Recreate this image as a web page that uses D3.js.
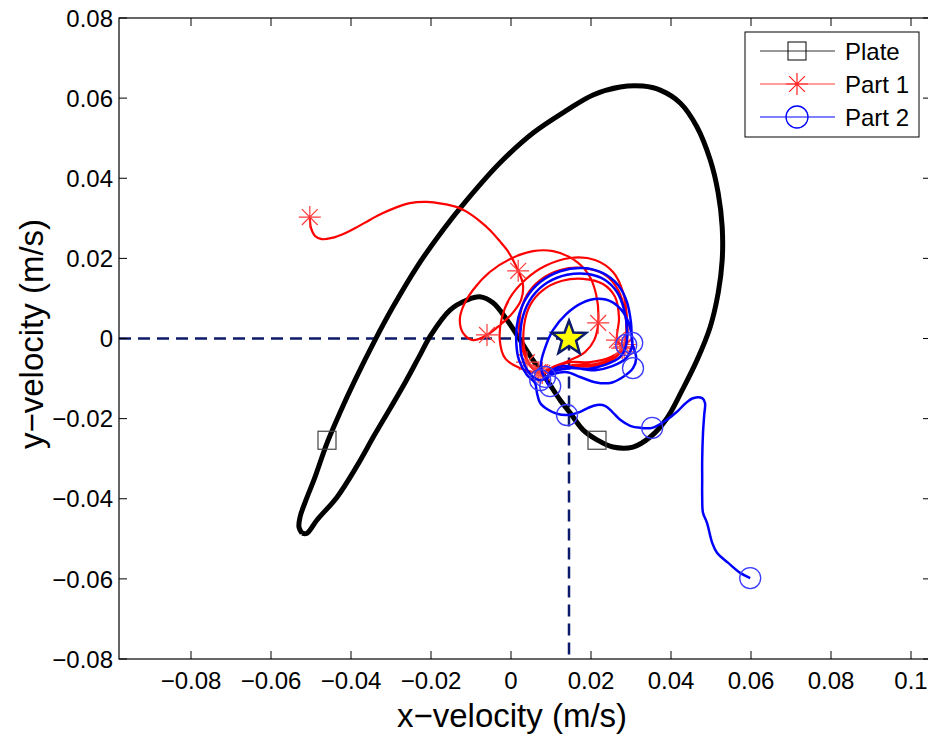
<!DOCTYPE html>
<html><head><meta charset="utf-8">
<script src="https://cdn.jsdelivr.net/npm/d3@7"></script>
<style>
html,body{margin:0;padding:0;background:#fff;}
svg{display:block;font-family:"Liberation Sans",Arial,Helvetica,sans-serif;}
</style></head>
<body>
<svg id="chart" width="928" height="734"></svg>
<script>
// ---- data (velocities in m/s) ----
const plateX = [-0.05225,-0.0530,-0.05275,-0.05125,-0.0490,-0.0460,-0.0428,-0.0390,-0.0340,-0.0295,-0.0235,-0.0170,-0.0110,-0.0028,0.0055,0.0140,0.0205,0.0273,0.0330,0.0373,0.0423,0.0465,0.0498,0.0518,0.0528,0.0528,0.0518,0.0498,0.0465,0.0428,0.0390,0.0348,0.0305,0.0255,0.0215,0.0180,0.0148,0.0123,0.0090,0.0055,0.0023,-0.0010,-0.0045,-0.0078,-0.0110,-0.01525,-0.0200,-0.0230,-0.02625,-0.0300,-0.03425,-0.0385,-0.0435,-0.0485,-0.0510,-0.05225];
const plateY = [-0.0486,-0.0471,-0.0446,-0.0403,-0.0346,-0.0261,-0.0186,-0.0104,-0.0004,0.0079,0.0179,0.0271,0.0346,0.0438,0.0513,0.0570,0.0608,0.0628,0.0630,0.0620,0.0588,0.0528,0.0446,0.0363,0.0278,0.0196,0.0114,0.0029,-0.0054,-0.0129,-0.0199,-0.0246,-0.0271,-0.0271,-0.0253,-0.0228,-0.0186,-0.0154,-0.0104,-0.0054,-0.0004,0.0046,0.0089,0.0104,0.0096,0.0071,0.0009,-0.0046,-0.0106,-0.0171,-0.0243,-0.0318,-0.0396,-0.0453,-0.0486,-0.0486];
const plateMarkX = [-0.0460, 0.0215];
const plateMarkY = [-0.0254, -0.0254];

const part1X = [-0.0503,-0.0500,-0.0490,-0.0473,-0.0448,-0.0415,-0.0385,-0.0353,-0.0320,-0.0285,-0.0253,-0.0210,-0.0170,-0.0135,-0.0110,-0.0078,-0.0053,-0.0028,-0.0010,0.0005,0.0018,0.0030,0.0025,0.0000,-0.0033,-0.0060,-0.0095,-0.0120,-0.0128,-0.0120,-0.0095,-0.0053,-0.0003,0.0055,0.0105,0.0155,0.0193,0.0213,0.0218,0.0208,0.0185,0.0148,0.0110,0.0073,
  0.0023,-0.0015,-0.0028,-0.0023,-0.0003,0.0035,0.0085,0.0148,0.0210,0.0255,0.0280,0.0290,0.0290,0.0283,0.0253,0.0210,0.0160,0.0115,0.0073,
  0.0043,0.0023,0.0023,0.0040,0.0073,0.0123,0.0180,0.0235,0.0268,0.0285,0.0288,0.0283,0.0253,0.0210,0.0160,0.0115,0.0078,
  0.0048,0.0033,0.0033,0.0048,0.0080,0.0128,0.0180,0.0230,0.0260,0.0270,0.0265,0.0278,0.0248,0.0198,0.0148,0.0103,0.0068,0.0040];
const part1Y = [0.0303,0.0276,0.0256,0.0248,0.0251,0.0263,0.0278,0.0296,0.0313,0.0328,0.0338,0.0341,0.0336,0.0328,0.0316,0.0293,0.0271,0.0243,0.0221,0.0196,0.0169,0.0134,0.0096,0.0059,0.0029,0.0009,-0.0004,0.0014,0.0046,0.0079,0.0121,0.0166,0.0198,0.0218,0.0218,0.0198,0.0161,0.0109,0.0039,-0.0004,-0.0034,-0.0054,-0.0069,-0.0084,
  -0.0074,-0.0049,-0.0004,0.0051,0.0101,0.0146,0.0181,0.0201,0.0196,0.0166,0.0116,0.0051,-0.0004,-0.0021,-0.0054,-0.0069,-0.0071,-0.0079,-0.0086,
  -0.0059,-0.0004,0.0059,0.0109,0.0146,0.0171,0.0176,0.0159,0.0121,0.0066,0.0009,-0.0021,-0.0049,-0.0064,-0.0066,-0.0076,-0.0084,
  -0.0066,-0.0024,0.0034,0.0084,0.0121,0.0144,0.0149,0.0136,0.0104,0.0051,-0.0004,-0.0024,-0.0047,-0.0059,-0.0059,-0.0074,-0.0084,-0.0059];
const part1MarkX = [-0.0503,0.0018,-0.0060,0.0218,0.0265,0.0283,0.0278,0.0073,0.0078,0.0068,0.0040,0.0285];
const part1MarkY = [0.0303,0.0169,0.0009,0.0039,-0.0004,-0.0021,-0.0024,-0.0084,-0.0086,-0.0084,-0.0059,-0.0015];

const part2X = [0.0598,0.0573,0.0543,0.0515,0.0503,0.0490,0.0480,0.0478,0.0478,0.0478,0.0480,0.0483,0.0485,0.0478,0.0455,0.0435,0.0415,0.0385,0.0353,0.0323,0.0298,0.0273,0.0253,0.0235,0.0215,0.0193,0.0173,0.0140,0.0115,0.0093,0.0073,0.0065,0.0060,
  0.0040,0.0020,0.0013,0.0018,0.0038,0.0073,0.0123,0.0180,0.0230,0.0268,0.0290,0.0300,0.0303,0.0313,0.0305,0.0280,0.0248,0.0210,0.0173,0.0140,0.0105,0.0073,
  0.0048,0.0028,0.0023,0.0030,0.0053,0.0090,0.0140,0.0193,0.0235,0.0265,0.0283,0.0290,0.0288,0.0273,0.0235,0.0193,0.0148,0.0110,0.0085,
  0.0075,0.0085,0.0105,0.0138,0.0178,0.0218,0.0253,0.0280,0.0298,0.0303,0.0288,0.0253,0.0210,0.0165,0.0128,0.0098,0.0090,0.0098];
const part2Y = [-0.0598,-0.0585,-0.0560,-0.0535,-0.0510,-0.0460,-0.0435,-0.0395,-0.0353,-0.0303,-0.0236,-0.0191,-0.0161,-0.0149,-0.0149,-0.0163,-0.0183,-0.0206,-0.0223,-0.0223,-0.0218,-0.0203,-0.0183,-0.0168,-0.0166,-0.0173,-0.0183,-0.0191,-0.0188,-0.0178,-0.0161,-0.0136,-0.0111,
  -0.0091,-0.0054,-0.0004,0.0051,0.0101,0.0141,0.0168,0.0176,0.0163,0.0133,0.0091,0.0039,-0.0011,-0.0049,-0.0074,-0.0096,-0.0111,-0.0109,-0.0096,-0.0084,-0.0089,-0.0104,
  -0.0089,-0.0049,0.0001,0.0056,0.0104,0.0139,0.0159,0.0161,0.0146,0.0116,0.0071,0.0021,-0.0016,-0.0046,-0.0066,-0.0076,-0.0074,-0.0081,-0.0096,
  -0.0066,-0.0024,0.0021,0.0061,0.0089,0.0099,0.0091,0.0066,0.0026,-0.0016,-0.0049,-0.0069,-0.0079,-0.0074,-0.0069,-0.0084,-0.0109,-0.0119];
const part2MarkX = [0.0598,0.0353,0.0140,0.0303,0.0305,0.0288,0.0073,0.0098,0.0085];
const part2MarkY = [-0.0598,-0.0223,-0.0191,-0.0011,-0.0074,-0.0016,-0.0104,-0.0119,-0.0096];

const starX = [0.0145];
const starY = [0.0];

const xTicks = [-0.08,-0.06,-0.04,-0.02,0,0.02,0.04,0.06,0.08,0.1];
const xTickLabels = ["\u22120.08","\u22120.06","\u22120.04","\u22120.02","0","0.02","0.04","0.06","0.08","0.1"];
const yTicks = [-0.08,-0.06,-0.04,-0.02,0,0.02,0.04,0.06,0.08];
const yTickLabels = ["\u22120.08","\u22120.06","\u22120.04","\u22120.02","0","0.02","0.04","0.06","0.08"];
const legendNames = ["Plate","Part 1","Part 2"];

// ---- drawing ----
const svg = d3.select("#chart");
const L = 119, R = 931, T = 18, B = 659;
const x = d3.scaleLinear().domain([-0.098, 0.105]).range([L, R]);
const y = d3.scaleLinear().domain([-0.08, 0.08]).range([B, T]);

svg.append("rect").attr("width",928).attr("height",734).attr("fill","#fff");

svg.append("clipPath").attr("id","clip").append("rect")
  .attr("x",L).attr("y",T).attr("width",R-L).attr("height",B-T);
const plot = svg.append("g").attr("clip-path","url(#clip)");

const line = d3.line().x(d=>x(d[0])).y(d=>y(d[1])).curve(d3.curveCatmullRom.alpha(0.5));
const zip = (a,b)=>a.map((v,i)=>[v,b[i]]);

const navy = "#0b1a6b";
// dashed reference lines
plot.append("line").attr("x1",x(-0.098)).attr("x2",x(starX[0])).attr("y1",y(0)).attr("y2",y(0))
  .attr("stroke",navy).attr("stroke-width",2.5).attr("stroke-dasharray","12,7");
plot.append("line").attr("x1",x(starX[0])).attr("x2",x(starX[0])).attr("y1",y(starY[0])).attr("y2",y(-0.08))
  .attr("stroke",navy).attr("stroke-width",2.5).attr("stroke-dasharray","12,7");

// plate
plot.append("path").datum(zip(plateX,plateY)).attr("d",line)
  .attr("fill","none").attr("stroke","#000").attr("stroke-width",5).attr("stroke-linejoin","round");
plot.selectAll(".psq").data(zip(plateMarkX,plateMarkY)).join("rect")
  .attr("x",d=>x(d[0])-9).attr("y",d=>y(d[1])-9).attr("width",18).attr("height",18)
  .attr("fill","none").attr("stroke","#444").attr("stroke-width",1.2);

// part 1
plot.append("path").datum(zip(part1X,part1Y)).attr("d",line)
  .attr("fill","none").attr("stroke","#ff0000").attr("stroke-width",2.2).attr("stroke-linejoin","round");
const s = 11, c = 0.72*s;
const astPath = `M${-s},0L${s},0M0,${-s}L0,${s}M${-c},${-c}L${c},${c}M${-c},${c}L${c},${-c}`;
plot.selectAll(".ast").data(zip(part1MarkX,part1MarkY)).join("path")
  .attr("transform",d=>`translate(${x(d[0])},${y(d[1])})`).attr("d",astPath)
  .attr("stroke","#ff3b3b").attr("stroke-width",1.2).attr("fill","none");

// part 2
plot.append("path").datum(zip(part2X,part2Y)).attr("d",line)
  .attr("fill","none").attr("stroke","#0000ff").attr("stroke-width",2.5).attr("stroke-linejoin","round");
plot.selectAll(".circ").data(zip(part2MarkX,part2MarkY)).join("circle")
  .attr("cx",d=>x(d[0])).attr("cy",d=>y(d[1])).attr("r",10.5)
  .attr("fill","none").attr("stroke","#3a3aff").attr("stroke-width",1.3);

// star
const starPts = [];
for (let i=0;i<10;i++){ const r = i%2===0?18:7.5; const a = -Math.PI/2 + i*Math.PI/5; starPts.push([r*Math.cos(a), r*Math.sin(a)]); }
plot.append("path").attr("transform",`translate(${x(starX[0])},${y(starY[0])})`)
  .attr("d","M"+starPts.map(p=>p.join(",")).join("L")+"Z")
  .attr("fill","#ffff00").attr("stroke",navy).attr("stroke-width",2.5).attr("stroke-linejoin","miter");

// axes box and ticks
const axes = svg.append("g");
axes.append("rect").attr("x",L).attr("y",T).attr("width",R-L).attr("height",B-T)
  .attr("fill","none").attr("stroke","#000").attr("stroke-width",1.2);
const tl = 8;
xTicks.forEach(v=>{
  axes.append("line").attr("x1",x(v)).attr("x2",x(v)).attr("y1",B).attr("y2",B-tl).attr("stroke","#000");
  axes.append("line").attr("x1",x(v)).attr("x2",x(v)).attr("y1",T).attr("y2",T+tl).attr("stroke","#000");
});
yTicks.forEach(v=>{
  axes.append("line").attr("x1",L).attr("x2",L+tl).attr("y1",y(v)).attr("y2",y(v)).attr("stroke","#000");
  axes.append("line").attr("x1",R).attr("x2",R-tl).attr("y1",y(v)).attr("y2",y(v)).attr("stroke","#000");
});
axes.selectAll(".xt").data(xTicks).join("text")
  .attr("x",d=>x(d)).attr("y",689).attr("text-anchor","middle")
  .attr("font-size",24).attr("fill","#000").text((d,i)=>xTickLabels[i]);
axes.selectAll(".yt").data(yTicks).join("text")
  .attr("x",113).attr("y",d=>y(d)).attr("dy","0.36em").attr("text-anchor","end")
  .attr("font-size",24).attr("fill","#000").text((d,i)=>yTickLabels[i]);

svg.append("text").attr("x",512).attr("y",727).attr("text-anchor","middle")
  .attr("font-size",33).attr("fill","#000").text("x\u2212velocity (m/s)");
svg.append("text").attr("transform","translate(43,334) rotate(-90)").attr("text-anchor","middle")
  .attr("font-size",33).attr("fill","#000").text("y\u2212velocity (m/s)");

// legend
const lg = svg.append("g");
lg.append("rect").attr("x",745).attr("y",32).attr("width",174).attr("height",105)
  .attr("fill","#fff").attr("stroke","#000").attr("stroke-width",1);
const ly = [51,84,117];
const lcol = ["#333","#ff3b3b","#0000ff"];
legendNames.forEach((n,i)=>{
  lg.append("line").attr("x1",760).attr("x2",835).attr("y1",ly[i]).attr("y2",ly[i]).attr("stroke",lcol[i]).attr("stroke-width",1);
  lg.append("text").attr("x",845).attr("y",ly[i]).attr("dy","0.36em").attr("font-size",24).attr("fill","#000").text(n);
});
lg.append("rect").attr("x",788).attr("y",42).attr("width",18).attr("height",18).attr("fill","none").attr("stroke","#000");
lg.append("path").attr("transform","translate(797,84)").attr("d",astPath).attr("stroke","#ff2020").attr("stroke-width",1.2);
lg.append("circle").attr("cx",797).attr("cy",117).attr("r",11).attr("fill","none").attr("stroke","#0000ff").attr("stroke-width",1.3);
</script>
</body></html>
